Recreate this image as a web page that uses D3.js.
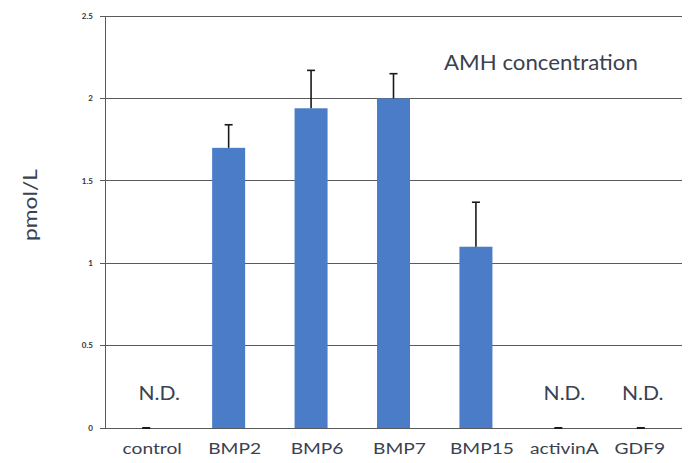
<!DOCTYPE html>
<html>
<head>
<meta charset="utf-8">
<script src="https://cdn.jsdelivr.net/npm/d3@7"></script>
<style>
  html, body { margin: 0; padding: 0; background: #fff; }
  svg { display: block; }
  text { font-family: Lato, "Open Sans", sans-serif; }
</style>
</head>
<body>
<svg id="chart" width="690" height="463"></svg>
<script>
// AMH concentration by treatment (pmol/L); null = not detected
const categories = ["control", "BMP2", "BMP6", "BMP7", "BMP15", "activinA", "GDF9"];
const means = [null, 1.70, 1.94, 2.00, 1.10, null, null];
const errors = [null, 0.14, 0.23, 0.15, 0.27, null, null];
const yTicks = [0, 0.5, 1, 1.5, 2, 2.5];
const yTickLabels = ["0", "0.5", "1", "1.5", "2", "2.5"];

const svg = d3.select("#chart");
const margin = { top: 16, right: 8, bottom: 35, left: 105 };
const width = 690 - margin.left - margin.right;
const height = 463 - margin.top - margin.bottom;
const textColor = "#3a4150";

const g = svg.append("g").attr("transform", `translate(${margin.left},${margin.top})`);

const x = d3.scaleBand().domain(categories).range([0, width]);
const y = d3.scaleLinear().domain([0, 2.5]).range([height, 0]);
const xCenter = c => x(c) + x.bandwidth() / 2;
const barW = 33;

// horizontal gridlines
g.append("g")
  .selectAll("line")
  .data(yTicks)
  .join("line")
  .attr("x1", -5)
  .attr("x2", width)
  .attr("y1", d => y(d))
  .attr("y2", d => y(d))
  .attr("stroke", "#5a5a5a")
  .attr("stroke-width", 1)
  .attr("shape-rendering", "crispEdges");

// left axis line
g.append("line")
  .attr("x1", 0).attr("x2", 0)
  .attr("y1", 0).attr("y2", height)
  .attr("stroke", "#5a5a5a")
  .attr("shape-rendering", "crispEdges");

// y tick labels
g.append("g")
  .selectAll("text")
  .data(yTicks)
  .join("text")
  .attr("x", -12)
  .attr("y", d => y(d))
  .attr("dy", "0.35em")
  .attr("text-anchor", "end")
  .attr("font-size", 8)
  .attr("font-weight", "bold")
  .attr("fill", "#2d3340")
  .text((d, i) => yTickLabels[i]);

// bars
const barData = categories.map((c, i) => ({ c, v: means[i], e: errors[i] }));

g.append("g")
  .selectAll("rect")
  .data(barData.filter(d => d.v !== null))
  .join("rect")
  .attr("x", d => xCenter(d.c) - barW / 2)
  .attr("y", d => y(d.v))
  .attr("width", barW)
  .attr("height", d => y(0) - y(d.v))
  .attr("fill", "#4a7cc7");

// error bars (upper whisker only)
const eb = g.append("g").attr("stroke", "#1a1a1a").attr("stroke-width", 1.6);
barData.filter(d => d.v !== null).forEach(d => {
  const cx = xCenter(d.c);
  eb.append("line").attr("x1", cx).attr("x2", cx).attr("y1", y(d.v)).attr("y2", y(d.v + d.e));
  eb.append("line").attr("x1", cx - 4).attr("x2", cx + 4).attr("y1", y(d.v + d.e)).attr("y2", y(d.v + d.e));
});

// zero markers and N.D. labels for undetected groups
const ndNudge = { control: 13, activinA: 6, GDF9: 2 };
barData.filter(d => d.v === null).forEach(d => {
  const cx = xCenter(d.c);
  g.append("line")
    .attr("x1", cx - 4).attr("x2", cx + 4)
    .attr("y1", y(0)).attr("y2", y(0))
    .attr("stroke", "#1a1a1a").attr("stroke-width", 2);
  g.append("text")
    .attr("transform", `translate(${cx + ndNudge[d.c]},${y(0) - 28}) scale(1.08,1)`)
    .attr("text-anchor", "middle")
    .attr("font-size", 19.5)
    .attr("fill", textColor)
    .text("N.D.");
});

// category labels
g.append("g")
  .selectAll("text")
  .data(categories)
  .join("text")
  .attr("transform", d => `translate(${xCenter(d) + (d === "GDF9" ? -1 : 6)},${height + 26}) scale(1.2,1)`)
  .attr("text-anchor", "middle")
  .attr("font-size", 16)
  .attr("fill", textColor)
  .text(d => d);

// y axis title
svg.append("text")
  .attr("transform", "translate(37,205) rotate(-90) scale(1.2,1)")
  .attr("text-anchor", "middle")
  .attr("font-size", 19)
  .attr("fill", textColor)
  .text("pmol/L");

// chart title
svg.append("text")
  .attr("transform", "translate(444,70) scale(1.06,1)")
  .attr("font-size", 21)
  .attr("fill", textColor)
  .text("AMH concentration");
</script>
</body>
</html>
